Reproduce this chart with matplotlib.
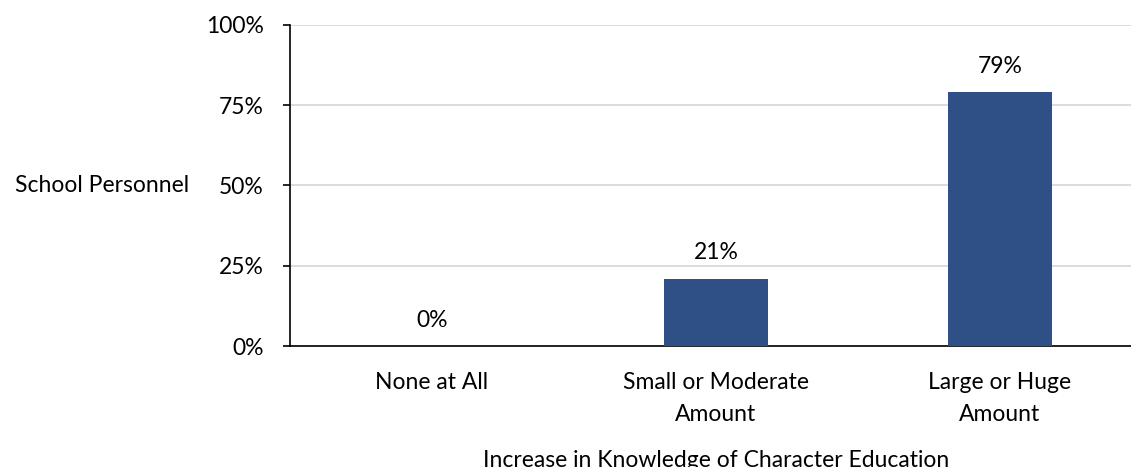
import matplotlib
matplotlib.use("Agg")
import matplotlib.pyplot as plt
from matplotlib.ticker import PercentFormatter

# data
categories = ["None at All", "Small or Moderate\nAmount", "Large or Huge\nAmount"]
values = [0, 21, 79]
yticks = [0, 25, 50, 75, 100]

plt.rcParams['font.family'] = ['Lato', 'DejaVu Sans']
fs = 16.5

fig = plt.figure(figsize=(11.31, 4.67), dpi=100)
ax = fig.add_axes([0.2564, 0.2591, 0.7533, 0.6874])

x = range(len(categories))
bars = ax.bar(x, values, width=0.363, color="#2f5086", zorder=3)

# value labels above bars
for xi, v in zip(x, values):
    ax.annotate(f"{v}%", (xi, v), xytext=(0, 11), textcoords="offset points",
                ha="center", va="bottom", fontsize=fs)

ax.set_xlim(-0.5, 2.5)
ax.set_ylim(0, 100)
ax.set_yticks(yticks)
ax.yaxis.set_major_formatter(PercentFormatter(decimals=0))
ax.set_xticks(list(x))
ax.set_xticklabels(categories, fontsize=fs, linespacing=1.6)
ax.tick_params(axis="x", length=0, pad=19)
ax.tick_params(axis="y", length=5, width=1.2, direction="out", labelsize=fs, pad=14)

ax.grid(axis="y", color="#d9d9d9", linewidth=1.3, zorder=0)
for s in ["top", "right"]:
    ax.spines[s].set_visible(False)
ax.spines["left"].set_linewidth(1.2)
ax.spines["bottom"].set_linewidth(1.2)

ax.set_ylabel("School Personnel", rotation=0, fontsize=fs, ha="right", va="center")
ax.yaxis.set_label_coords(-0.118, 0.5)
ax.set_xlabel("Increase in Knowledge of Character Education", fontsize=fs, labelpad=18)

fig.savefig("out.png", dpi=100)
